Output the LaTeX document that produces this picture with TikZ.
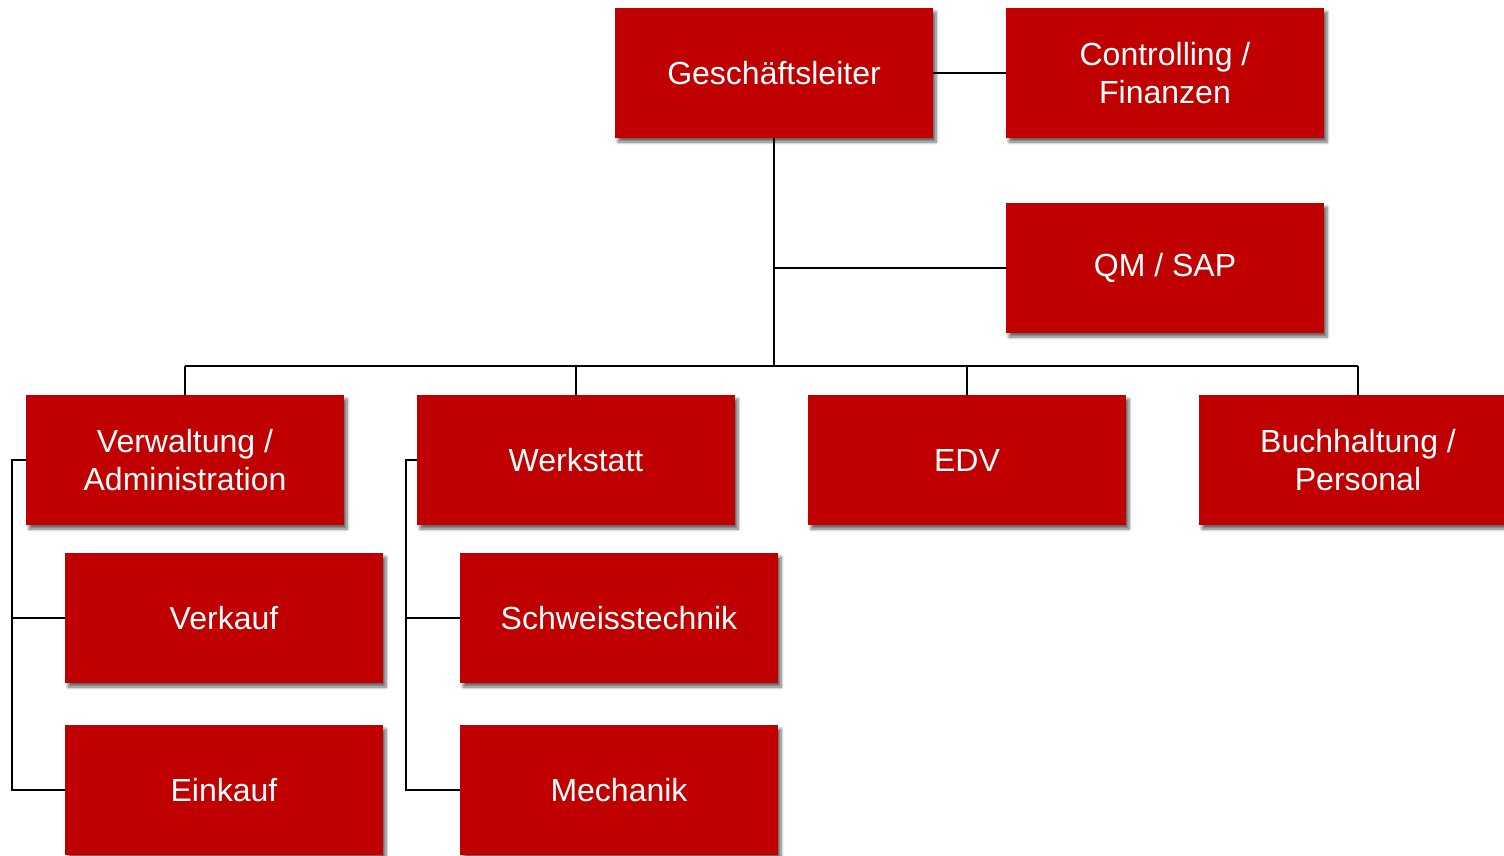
\documentclass[tikz,border=0pt]{standalone}
\usepackage{fontspec}
\setmainfont{Liberation Sans}
\usetikzlibrary{shadows.blur}
\definecolor{boxred}{RGB}{192,0,0}
\tikzset{
  orgbox/.style={rectangle, fill=boxred, text=white, minimum width=318pt, minimum height=130pt,
    inner sep=0pt, align=center, font=\fontsize{32}{38}\selectfont,
    blur shadow={shadow xshift=3pt, shadow yshift=-4pt, shadow opacity=60, shadow blur steps=6, shadow blur radius=3pt}},
  link/.style={draw=black, line width=2.4pt}
}
\begin{document}
\begin{tikzpicture}[x=1pt,y=-1pt]
\useasboundingbox (0,0) rectangle (1504,855);
\node[orgbox] (gl) at (774,73) {Geschäftsleiter};
\node[orgbox] (ctrl) at (1165,73) {Controlling /\\Finanzen};
\node[orgbox] (qm) at (1165,268) {QM / SAP};
\node[orgbox] (verw) at (185,460) {Verwaltung /\\Administration};
\node[orgbox] (werk) at (576,460) {Werkstatt};
\node[orgbox] (edv) at (967,460) {EDV};
\node[orgbox] (buch) at (1358,460) {Buchhaltung /\\Personal};
\node[orgbox] (verk) at (224,618) {Verkauf};
\node[orgbox] (schw) at (619,618) {Schweisstechnik};
\node[orgbox] (eink) at (224,790) {Einkauf};
\node[orgbox] (mech) at (619,790) {Mechanik};
\coordinate (bus) at (774,366);
\coordinate (lb) at (12,460);
\coordinate (wb) at (406,460);
\draw[link] (gl.east) -- (ctrl.west);
\draw[link] (gl.south) -- (bus);
\draw[link] (gl.south |- qm.west) -- (qm.west);
\draw[link] (verw.north |- bus) -- (buch.north |- bus);
\draw[link] (verw.north |- bus) -- (verw.north);
\draw[link] (werk.north |- bus) -- (werk.north);
\draw[link] (edv.north |- bus) -- (edv.north);
\draw[link] (buch.north |- bus) -- (buch.north);
\draw[link] (verw.west) -- (lb) |- (eink.west);
\draw[link] (lb |- verk.west) -- (verk.west);
\draw[link] (werk.west) -- (wb) |- (mech.west);
\draw[link] (wb |- schw.west) -- (schw.west);
\end{tikzpicture}
\end{document}
